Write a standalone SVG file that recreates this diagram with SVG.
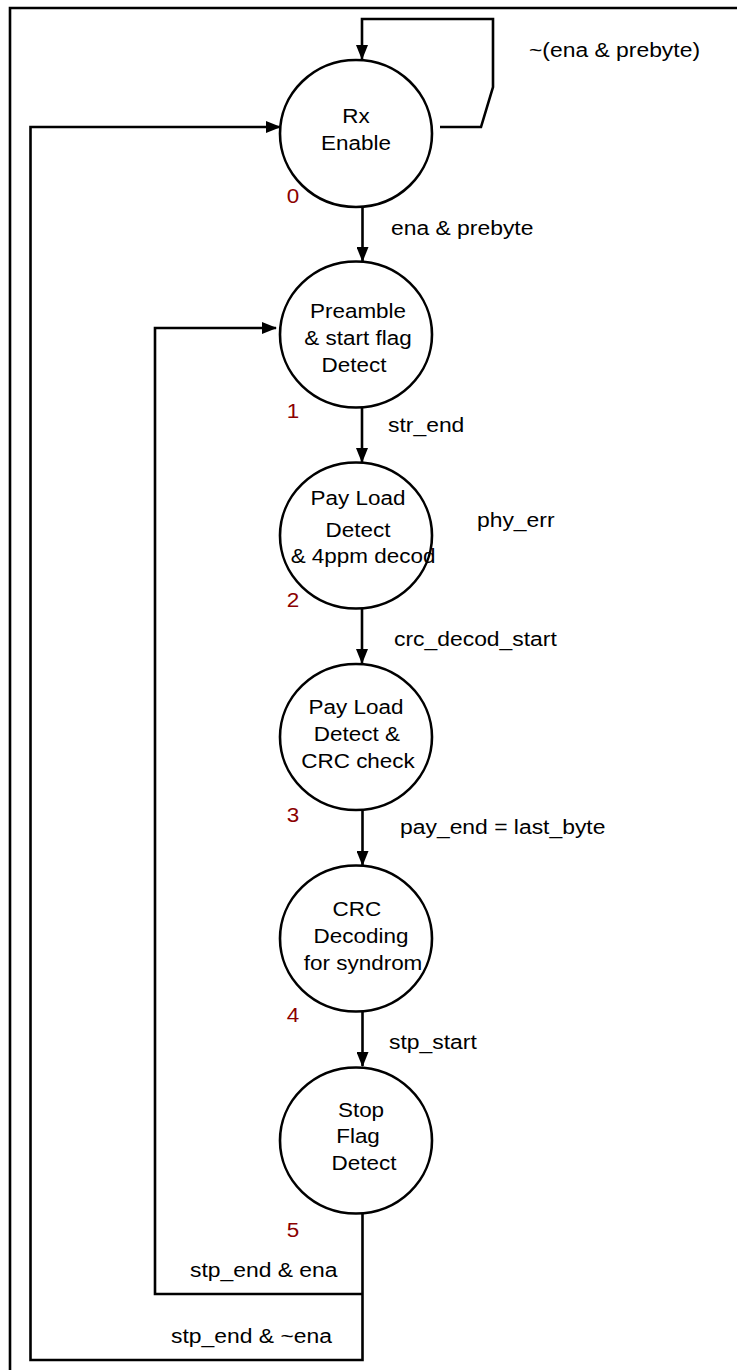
<svg xmlns="http://www.w3.org/2000/svg" width="737" height="1370" viewBox="0 0 737 1370">
<defs>
<marker id="arr" markerUnits="userSpaceOnUse" markerWidth="15" markerHeight="12" refX="14" refY="6" orient="auto">
<path d="M0,0 L15,6 L0,12 z" fill="#000"/>
</marker>
<style>
.st{fill:#fff;stroke:#000;stroke-width:2.6}
.ln{fill:none;stroke:#000;stroke-width:2.6}
text{font-family:"Liberation Sans",Arial,sans-serif;font-size:21px;fill:#000}
.c{text-anchor:middle}
.n{fill:#8b0000}
</style>
</defs>
<rect width="737" height="1370" fill="#fff"/>
<path class="ln" d="M10,1370 V8 H737" stroke-width="3"/>
<g id="connectors">
<path class="ln" d="M440,127 H481 L493,87 V19 H362 V59" marker-end="url(#arr)"/>
<path class="ln" d="M362.5,207 V261" marker-end="url(#arr)"/>
<path class="ln" d="M362,408 V462" marker-end="url(#arr)"/>
<path class="ln" d="M362,609 V663" marker-end="url(#arr)"/>
<path class="ln" d="M362.5,811 V865" marker-end="url(#arr)"/>
<path class="ln" d="M362.5,1012 V1066" marker-end="url(#arr)"/>
<path class="ln" d="M362.5,1214 V1360 H30.5 V127 H280" marker-end="url(#arr)"/>
<path class="ln" d="M362.5,1294 H155 V328 H276" marker-end="url(#arr)"/>
<g transform="scale(1.09,1)">
<text x="485.3" y="57">~(ena &amp; prebyte)</text>
<text x="358.7" y="235">ena &amp; prebyte</text>
<text x="356.0" y="432">str_end</text>
<text x="437.6" y="527">phy_err</text>
<text x="361.5" y="646">crc_decod_start</text>
<text x="367.0" y="834">pay_end = last_byte</text>
<text x="356.9" y="1049">stp_start</text>
<text x="174.3" y="1277">stp_end &amp; ena</text>
<text x="156.9" y="1343">stp_end &amp; ~ena</text>
</g>
</g>
<g id="node0">
<ellipse class="st" cx="356" cy="133.5" rx="76" ry="73.5"/>
<g transform="scale(1.07,1)">
<text class="c" x="332.7" y="123">Rx</text>
<text class="c" x="332.7" y="150">Enable</text>
<text class="c n" x="273.8" y="203">0</text>
</g>
</g>
<g id="node1">
<ellipse class="st" cx="356" cy="334.5" rx="76" ry="73"/>
<g transform="scale(1.07,1)">
<text class="c" x="334.6" y="318">Preamble</text>
<text class="c" x="334.6" y="345">&amp; start flag</text>
<text class="c" x="330.8" y="372">Detect</text>
<text class="c n" x="273.8" y="418">1</text>
</g>
</g>
<g id="node2">
<ellipse class="st" cx="356" cy="535.5" rx="76" ry="73"/>
<g transform="scale(1.07,1)">
<text class="c" x="334.6" y="505">Pay Load</text>
<text class="c" x="334.6" y="537">Detect</text>
<text class="c" x="339.3" y="563">&amp; 4ppm decod</text>
<text class="c n" x="273.8" y="607">2</text>
</g>
</g>
<g id="node3">
<ellipse class="st" cx="356" cy="737" rx="76" ry="73"/>
<g transform="scale(1.07,1)">
<text class="c" x="332.7" y="714">Pay Load</text>
<text class="c" x="333.6" y="741">Detect &amp;</text>
<text class="c" x="334.6" y="768">CRC check</text>
<text class="c n" x="273.8" y="822">3</text>
</g>
</g>
<g id="node4">
<ellipse class="st" cx="356" cy="938.5" rx="76" ry="73"/>
<g transform="scale(1.07,1)">
<text class="c" x="333.6" y="916">CRC</text>
<text class="c" x="337.4" y="943">Decoding</text>
<text class="c" x="339.3" y="970">for syndrom</text>
<text class="c n" x="273.8" y="1022">4</text>
</g>
</g>
<g id="node5">
<ellipse class="st" cx="356" cy="1140.5" rx="76" ry="73"/>
<g transform="scale(1.07,1)">
<text class="c" x="337.4" y="1117">Stop</text>
<text class="c" x="334.6" y="1143">Flag</text>
<text class="c" x="340.2" y="1170">Detect</text>
<text class="c n" x="273.8" y="1237">5</text>
</g>
</g>
</svg>
